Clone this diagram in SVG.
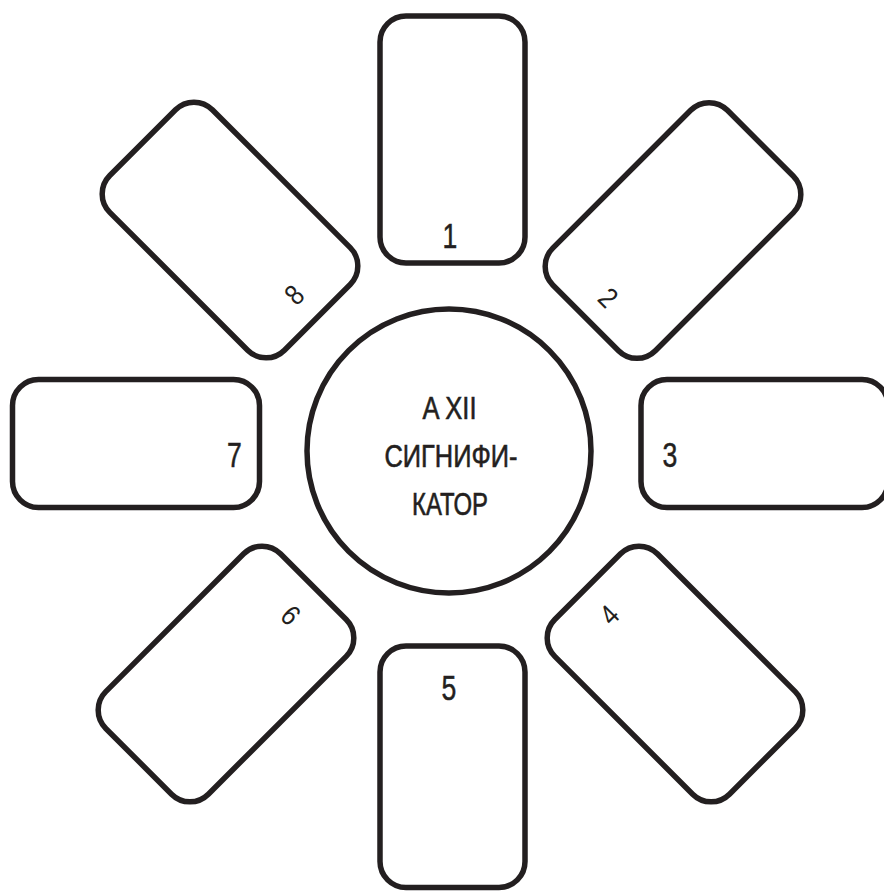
<svg xmlns="http://www.w3.org/2000/svg" width="884" height="891" viewBox="0 0 884 891">
  <style>
    .card { fill: #ffffff; stroke: #231f20; stroke-width: 5.5; }
    .num { font-family: "Liberation Sans", "DejaVu Sans", sans-serif; font-size: 36px; fill: #231f20; stroke: #231f20; stroke-width: 0.5; text-anchor: middle; }
    .dnum { font-family: "Liberation Sans", "DejaVu Sans", sans-serif; font-size: 29px; fill: #231f20; text-anchor: middle; }
    .center { font-family: "Liberation Sans", "DejaVu Sans", sans-serif; font-size: 31px; fill: #231f20; stroke: #231f20; stroke-width: 0.6; text-anchor: middle; }
  </style>
  <rect width="884" height="891" fill="#ffffff"/>
  <g id="connectors"/>
  <g id="card1">
    <rect class="card" x="380" y="16" width="145" height="247" rx="26"/>
    <text class="num" transform="translate(450,248) scale(0.74,1)">1</text>
  </g>
  <g id="card2">
    <rect class="card" transform="translate(673,230.5) rotate(45)" x="-72.5" y="-123.5" width="145" height="247" rx="26"/>
    <text class="dnum" transform="translate(608.5,297.5) rotate(45) translate(0,10.5) scale(0.85,1)">2</text>
  </g>
  <g id="card3">
    <rect class="card" x="641" y="379.5" width="247" height="128" rx="26"/>
    <text class="num" transform="translate(670,467) scale(0.74,1)">3</text>
  </g>
  <g id="card4">
    <rect class="card" transform="translate(675,674) rotate(-45)" x="-72.5" y="-123.5" width="145" height="247" rx="26"/>
    <text class="dnum" transform="translate(609,614.5) rotate(-45) translate(0,10.5) scale(0.85,1)">4</text>
  </g>
  <g id="card5">
    <rect class="card" x="380" y="646" width="145" height="241.5" rx="26"/>
    <text class="num" transform="translate(449,700) scale(0.74,1)">5</text>
  </g>
  <g id="card6">
    <rect class="card" transform="translate(226,674) rotate(45)" x="-72.5" y="-123.5" width="145" height="247" rx="26"/>
    <text class="dnum" transform="translate(291,615) rotate(45) translate(0,10.5) scale(0.85,1)">6</text>
  </g>
  <g id="card7">
    <rect class="card" x="12.5" y="379.5" width="247" height="128" rx="26"/>
    <text class="num" transform="translate(234.5,467) scale(0.74,1)">7</text>
  </g>
  <g id="card8">
    <rect class="card" transform="translate(230,230) rotate(-45)" x="-72.5" y="-123.5" width="145" height="247" rx="26"/>
    <text class="dnum" transform="translate(294,294.5) rotate(-45) translate(0,10.5) scale(0.85,1)">8</text>
  </g>
  <g id="significator">
    <circle cx="449" cy="451" r="142" fill="#ffffff" stroke="#231f20" stroke-width="5.5"/>
    <text class="center" x="449.5" y="419" textLength="54" lengthAdjust="spacingAndGlyphs">A XII</text>
    <text class="center" x="451" y="467" textLength="133" lengthAdjust="spacingAndGlyphs">СИГНИФИ-</text>
    <text class="center" x="450" y="515" textLength="76" lengthAdjust="spacingAndGlyphs">КАТОР</text>
  </g>
</svg>
